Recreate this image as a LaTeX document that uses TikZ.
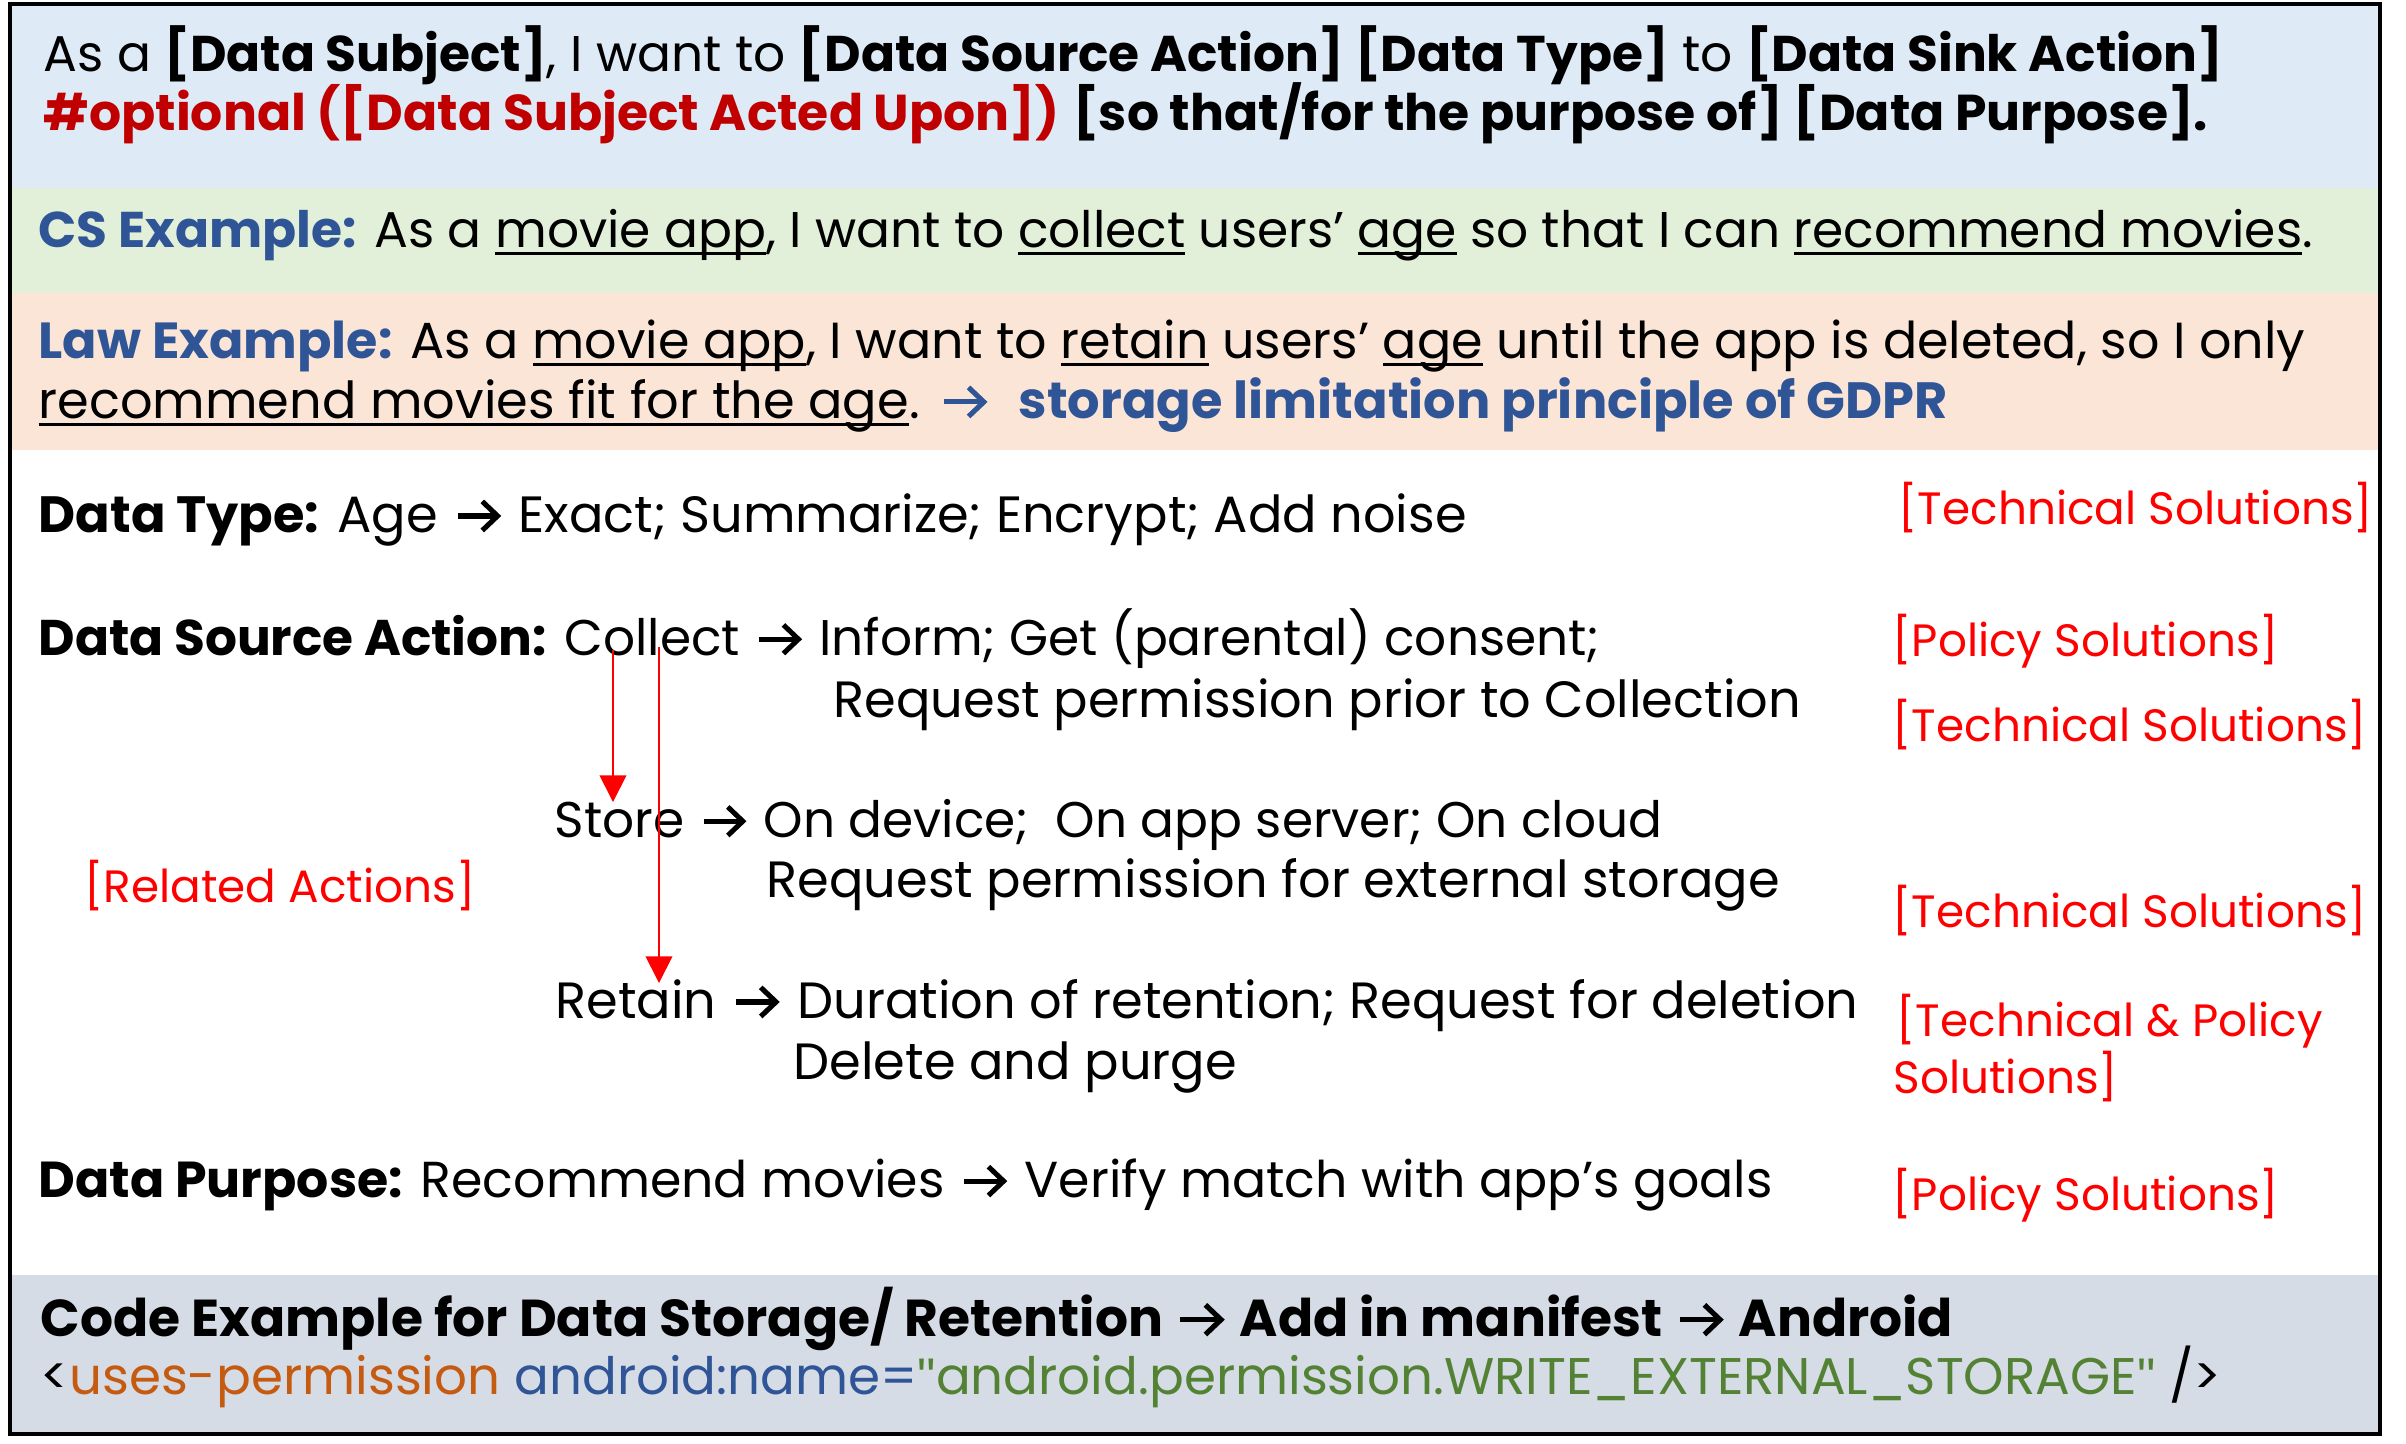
\documentclass[tikz,border=0pt]{standalone}
\usepackage{fontspec}
\setmainfont{Poppins}
\newfontfamily\qfont{Liberation Sans}
\usetikzlibrary{arrows.meta}
\definecolor{bandblue}{HTML}{DEEBF7}
\definecolor{bandgreen}{HTML}{E2F0D9}
\definecolor{bandpeach}{HTML}{FBE5D6}
\definecolor{bandgray}{HTML}{D6DCE5}
\definecolor{hdblue}{HTML}{2F5597}
\definecolor{darkred}{HTML}{C00000}
\definecolor{lblred}{HTML}{FF0000}
\definecolor{codeorange}{HTML}{C55A11}
\definecolor{codegreen}{HTML}{548235}
\definecolor{codeblue}{HTML}{2F5597}
\newsavebox\ulbox
\newcommand\ulx[1]{\sbox\ulbox{#1}\rlap{\rule[-0.16em]{\wd\ulbox}{0.07em}}\usebox\ulbox}
\newcommand\ar{\tikz[baseline=0pt,x=1em,y=1em,line width=0.1em]{\path (0,0) (1.05,0.6);
  \draw[color=.] (0.12,0.315)--(0.9,0.315);
  \draw[color=.,line join=miter,miter limit=20] (0.6,0.6)--(0.9,0.315)--(0.6,0.03);}}
\newcommand\dq{{\qfont\char"0022\relax}}
\begin{document}
\begin{tikzpicture}[x=0.3pt,y=-0.3pt,
  txt/.style={anchor=base west,inner sep=0pt,font=\fontsize{15.3}{18}\selectfont},
  lbl/.style={txt,text=lblred,font=\fontsize{13.6}{16}\selectfont},
  relarrow/.style={draw=lblred,line width=0.5pt,-{Triangle[width=8pt,length=8pt]}}]
\useasboundingbox (0,0) rectangle (2406,1443);
\fill[bandblue] (10,4) rectangle (2380,188);
\fill[bandgreen] (10,188) rectangle (2380,293);
\fill[bandpeach] (10,293) rectangle (2380,450);
\fill[bandgray] (10,1275) rectangle (2380,1434);
\draw[line width=1.2pt] (10,4) rectangle (2380,1434);

\node[txt,font=\fontsize{15.07}{18}\selectfont] (n1) at (43,71) {As a \textbf{[Data Subject]}, I want to \textbf{[Data Source Action] [Data Type]} to \textbf{[Data Sink Action]}};
\node[txt,font=\fontsize{15.13}{18}\selectfont] (n2) at (43,130) {\textcolor{darkred}{\textbf{\#optional ([Data Subject Acted Upon])}} \textbf{[so that/for the purpose of] [Data Purpose].}};
\node[txt,font=\fontsize{15.07}{18}\selectfont] (n3) at (38,247) {\textbf{\textcolor{hdblue}{CS Example:}} As a \ulx{movie app}, I want to \ulx{collect} users’ \ulx{age} so that I can \ulx{recommend movies}.};
\node[txt,font=\fontsize{15.22}{18}\selectfont] (n4) at (38,358) {\textbf{\textcolor{hdblue}{Law Example:}} As a \ulx{movie app}, I want to \ulx{retain} users’ \ulx{age} until the app is deleted, so I only};
\node[txt] (n5) at (38,418) {\ulx{recommend movies fit for the age}. \textcolor{hdblue}{\ar\ \ \textbf{storage limitation principle of GDPR}}};

\node[txt] (n6) at (38,532) {\textbf{Data Type:} Age \ar\ Exact; Summarize; Encrypt; Add noise};
\node[txt,font=\fontsize{15.05}{18}\selectfont] (n7) at (38,655) {\textbf{Data Source Action:} Collect \ar\ Inform; Get (parental) consent;};
\node[txt] (n8) at (833,717) {Request permission prior to Collection};
\node[txt,font=\fontsize{15.05}{18}\selectfont] (n9) at (554,837) {Store \ar\ On device;\ \ On app server; On cloud};
\node[txt] (n10) at (766,897) {Request permission for external storage};
\node[txt] (n11) at (555,1018) {Retain \ar\ Duration of retention; Request for deletion};
\node[txt] (n12) at (793,1079) {Delete and purge};
\node[txt,font=\fontsize{15.17}{18}\selectfont] (n13) at (38,1197) {\textbf{Data Purpose:} Recommend movies \ar\ Verify match with app’s goals};

\node[lbl] (r1) at (1898,524) {[Technical Solutions]};
\node[lbl] (r2) at (1892,656) {[Policy Solutions]};
\node[lbl] (r3) at (1892,741) {[Technical Solutions]};
\node[lbl] (r4) at (1892,927) {[Technical Solutions]};
\node[lbl] (r5) at (1896,1036) {[Technical \& Policy};
\node[lbl] (r5b) at (1893,1093) {Solutions]};
\node[lbl] (r6) at (1892,1210) {[Policy Solutions]};
\node[lbl] (rel) at (84,902) {[Related Actions]};

\coordinate (c1) at (613,650);
\coordinate (s1) at (613,802);
\coordinate (c2) at (659,647);
\coordinate (s2) at (659,983);
\draw[relarrow] (c1) -- (s1);
\draw[relarrow] (c2) -- (s2);

\node[txt,font=\fontsize{15.58}{18}\selectfont] (b1) at (40,1336) {\textbf{Code Example for Data Storage/ Retention \ar\ Add in manifest \ar\ Android}};
\node[txt,font=\fontsize{15.46}{18}\selectfont] (b2) at (40,1394) {<\textcolor{codeorange}{uses-permission} \textcolor{codeblue}{android:name=}\textcolor{codegreen}{\dq android.permission.WRITE\_EXTERNAL\_STORAGE\dq} />};
\end{tikzpicture}
\end{document}
